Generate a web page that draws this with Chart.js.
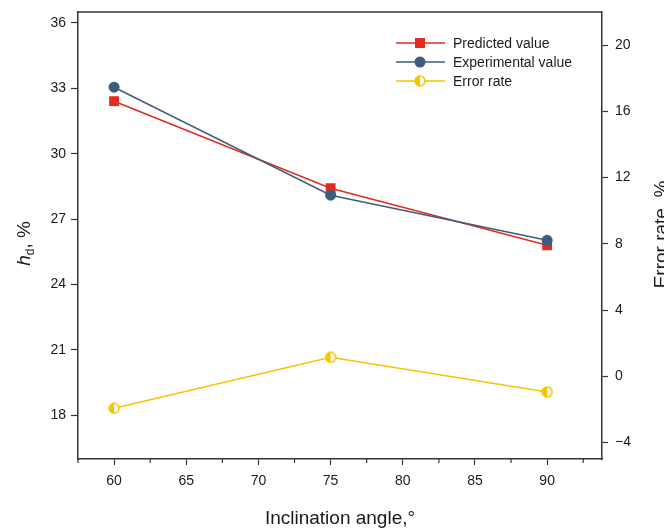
<!DOCTYPE html>
<html>
<head>
<meta charset="utf-8">
<script src="https://cdn.jsdelivr.net/npm/chart.js@4/dist/chart.umd.min.js"></script>
<style>
html, body { margin: 0; padding: 0; background: #fff; overflow: hidden; }
</style>
</head>
<body>
<canvas id="Chart" width="664" height="528"></canvas>
<script>
// inclination angle vs. hd (left axis) and error rate (right axis)
const angles = [60, 75, 90];
const predicted = [32.41, 28.42, 25.8];
const experimental = [33.05, 28.1, 26.03];
const errorRate = [-1.94, 1.14, -0.95];

const xTicks = [60, 65, 70, 75, 80, 85, 90];
const xMinorTicks = [57.5, 62.5, 67.5, 72.5, 77.5, 82.5, 87.5, 92.5];
const hdTicks = [18, 21, 24, 27, 30, 33, 36];
const errTicks = [-4, 0, 4, 8, 12, 16, 20];

const RED = '#e52a1f';
const BLUE = '#3d5d7e';
const YELLOW = '#f7c300';
const AXIS = '#3a3230';
const FONT = '"Liberation Sans", Arial, sans-serif';

// half filled circle used for the error rate points
function halfCircle(size, color) {
    const c = document.createElement('canvas');
    c.width = size; c.height = size;
    const g = c.getContext('2d');
    const m = size / 2, r = size / 2 - 1;
    g.beginPath(); g.arc(m, m, r, 0, 2 * Math.PI);
    g.fillStyle = '#fff'; g.fill();
    g.beginPath(); g.moveTo(m, m); g.arc(m, m, r, Math.PI / 2, Math.PI * 1.5); g.closePath();
    g.fillStyle = color; g.fill();
    g.beginPath(); g.arc(m, m, r, 0, 2 * Math.PI);
    g.lineWidth = 1.5; g.strokeStyle = color; g.stroke();
    return c;
}
const halfDot = halfCircle(12, YELLOW);

function toPoints(ys) {
    return angles.map((a, i) => ({ x: a, y: ys[i] }));
}

function fixTicks(list) {
    return function (scale) { scale.ticks = list.map(v => ({ value: v })); };
}

// fixed axis width, no extra room for the end labels
function fixWidth(w) {
    return function (scale) {
        scale.width = w;
        scale.paddingTop = 0;
        scale.paddingBottom = 0;
    };
}

// axis titles, frame top line, minor ticks and legend
const extras = {
    id: 'extras',
    afterDraw(chart) {
        const ctx = chart.ctx;
        const area = chart.chartArea;
        const x = chart.scales.x;
        ctx.save();
        ctx.strokeStyle = AXIS;
        ctx.lineWidth = 1.5;
        ctx.beginPath();
        ctx.moveTo(area.left, area.top); ctx.lineTo(area.right, area.top);
        ctx.stroke();
        ctx.lineWidth = 1.2;
        xMinorTicks.forEach(v => {
            const px = x.getPixelForValue(v);
            ctx.beginPath(); ctx.moveTo(px, area.bottom); ctx.lineTo(px, area.bottom + 4); ctx.stroke();
        });

        ctx.fillStyle = '#1a1a1a';
        ctx.textBaseline = 'alphabetic';
        ctx.textAlign = 'center';
        ctx.font = '19px ' + FONT;
        ctx.fillText('Inclination angle,°', (area.left + area.right) / 2, 524);

        // left title: h with subscript d
        const midY = (area.top + area.bottom) / 2;
        ctx.save();
        ctx.translate(30, midY + 8);
        ctx.rotate(-Math.PI / 2);
        ctx.textAlign = 'left';
        const hFont = 'italic 19px ' + FONT, dFont = '12px ' + FONT, rFont = '19px ' + FONT;
        ctx.font = hFont; const wh = ctx.measureText('h').width;
        ctx.font = dFont; const wd = ctx.measureText('d').width;
        ctx.font = rFont; const wr = ctx.measureText(', %').width;
        let cx = -(wh + wd + wr) / 2;
        ctx.font = hFont; ctx.fillText('h', cx, 0); cx += wh;
        ctx.font = dFont; ctx.fillText('d', cx, 4); cx += wd;
        ctx.font = rFont; ctx.fillText(', %', cx, 0);
        ctx.restore();

        // right title
        ctx.save();
        ctx.translate(667, midY - 1);
        ctx.rotate(-Math.PI / 2);
        ctx.textAlign = 'center';
        ctx.font = '19px ' + FONT;
        ctx.fillText('Error rate, %', 0, 0);
        ctx.restore();

        // legend
        const items = [
            { label: 'Predicted value', color: RED, style: 'rect' },
            { label: 'Experimental value', color: BLUE, style: 'circle' },
            { label: 'Error rate', color: YELLOW, style: 'half' }
        ];
        ctx.font = '14px ' + FONT;
        ctx.textAlign = 'left';
        ctx.textBaseline = 'middle';
        items.forEach((it, i) => {
            const y = 43 + i * 19;
            ctx.strokeStyle = it.color; ctx.lineWidth = 1.5;
            ctx.beginPath(); ctx.moveTo(396, y); ctx.lineTo(445, y); ctx.stroke();
            ctx.fillStyle = it.color;
            if (it.style === 'rect') ctx.fillRect(415, y - 5, 10, 10);
            else if (it.style === 'circle') { ctx.beginPath(); ctx.arc(420, y, 5.5, 0, 2 * Math.PI); ctx.fill(); }
            else ctx.drawImage(halfDot, 414, y - 6);
            ctx.fillStyle = '#1a1a1a';
            ctx.fillText(it.label, 453, y + 1);
        });
        ctx.restore();
    }
};

const ctx = document.getElementById('Chart').getContext('2d');
const myChart = new Chart(ctx, {
    type: 'line',
    data: {
        datasets: [{
            label: 'Experimental value',
            data: toPoints(experimental),
            borderColor: BLUE,
            backgroundColor: BLUE,
            borderWidth: 1.5,
            pointStyle: 'circle',
            pointRadius: 5.5,
            pointBorderWidth: 0,
            yAxisID: 'y',
            order: 1
        }, {
            label: 'Predicted value',
            data: toPoints(predicted),
            borderColor: RED,
            backgroundColor: RED,
            borderWidth: 1.5,
            pointStyle: 'rect',
            pointRadius: 7,
            pointBorderWidth: 0,
            yAxisID: 'y',
            order: 2
        }, {
            label: 'Error rate',
            data: toPoints(errorRate),
            borderColor: YELLOW,
            backgroundColor: YELLOW,
            borderWidth: 1.5,
            pointStyle: halfDot,
            yAxisID: 'y1',
            order: 3
        }]
    },
    options: {
        responsive: false,
        animation: false,
        devicePixelRatio: 1,
        layout: { padding: { top: 12, left: 0, right: 0, bottom: 0 } },
        plugins: { legend: { display: false }, tooltip: { enabled: false } },
        scales: {
            x: {
                type: 'linear',
                min: 57.5,
                max: 93.8,
                afterBuildTicks: fixTicks(xTicks),
                afterFit(scale) { scale.height = 69; },
                grid: { drawOnChartArea: false, tickLength: 6, color: AXIS, tickWidth: 1.2 },
                border: { color: AXIS, width: 1.5 },
                ticks: { padding: 8, color: '#1a1a1a', font: { family: FONT, size: 14 } }
            },
            y: {
                position: 'left',
                min: 16,
                max: 36.5,
                afterBuildTicks: fixTicks(hdTicks),
                afterFit: fixWidth(78),
                grid: { drawOnChartArea: false, tickLength: 7, color: AXIS, tickWidth: 1.2 },
                border: { color: AXIS, width: 1.5 },
                ticks: { padding: 5, color: '#1a1a1a', font: { family: FONT, size: 14 } }
            },
            y1: {
                position: 'right',
                min: -5,
                max: 22,
                afterBuildTicks: fixTicks(errTicks),
                afterFit: fixWidth(62),
                grid: { drawOnChartArea: false, tickLength: 6, color: AXIS, tickWidth: 1.2 },
                border: { color: AXIS, width: 1.5 },
                ticks: {
                    padding: 7, color: '#1a1a1a', font: { family: FONT, size: 14 },
                    callback: v => (v < 0 ? '\u2212' + Math.abs(v) : String(v))
                }
            }
        }
    },
    plugins: [extras]
});
</script>
</body>
</html>
